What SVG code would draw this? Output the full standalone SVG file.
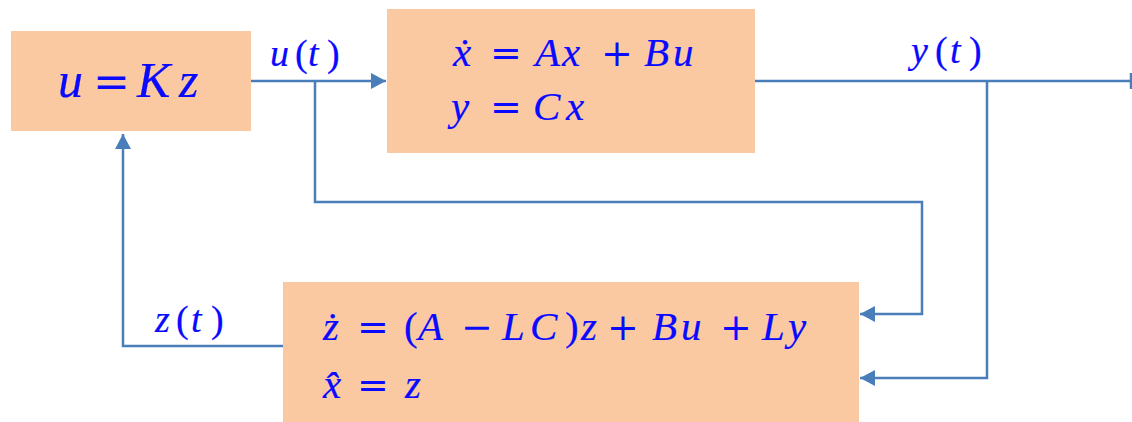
<svg xmlns="http://www.w3.org/2000/svg" width="1132" height="422" viewBox="0 0 1132 422">
<style>
.box{fill:#FAC9A2;stroke:none}
.ln{fill:none;stroke:#4A7EBB;stroke-width:2.5}
.m{font-family:"Liberation Serif","Times New Roman",serif;font-style:italic;fill:#0a0aff;stroke:#0a0aff;stroke-width:0.2}
.op{font-family:"DejaVu Serif",serif;font-style:normal;font-size:38px;stroke-width:0}
.pr{font-family:"Liberation Serif",serif;font-style:normal}
</style>
<defs>
<marker id="ah" viewBox="0 0 15 16" refX="15" refY="8" markerWidth="15" markerHeight="16" markerUnits="userSpaceOnUse" orient="auto">
<path d="M0,0 L15,8 L0,16 Z" fill="#4A7EBB"/>
</marker>
</defs>
<rect width="1132" height="422" fill="#ffffff"/>
<g id="connectors">
<path class="ln" d="M251 81 H386" marker-end="url(#ah)"/>
<path class="ln" d="M315 81 V202 H922 V314 H860" marker-end="url(#ah)"/>
<path class="ln" d="M755 81 H1131"/>
<path class="ln" d="M1131 73 V89"/>
<path class="ln" d="M987 81 V378 H860" marker-end="url(#ah)"/>
<path class="ln" d="M283 346 H123 V134" marker-end="url(#ah)"/>
</g>
<g id="controller">
<rect class="box" x="11" y="31" width="240" height="100"/>
<text class="m" y="97" font-size="50"><tspan x="58">u</tspan><tspan class="op" x="93" style="font-size:44px">=</tspan><tspan x="137">K</tspan><tspan x="179">z</tspan></text>
</g>
<g id="plant">
<rect class="box" x="387" y="9" width="368" height="144"/>
<text class="m" y="66" font-size="41"><tspan x="453">ẋ</tspan><tspan class="op" x="490">=</tspan><tspan x="535">A</tspan><tspan x="562">x</tspan><tspan class="op" x="601">+</tspan><tspan x="644">B</tspan><tspan x="673">u</tspan></text>
<text class="m" y="120" font-size="41"><tspan x="451">y</tspan><tspan class="op" x="490">=</tspan><tspan x="533">C</tspan><tspan x="566">x</tspan></text>
</g>
<g id="observer">
<rect class="box" x="283" y="282" width="576" height="140"/>
<text class="m" y="340" font-size="41"><tspan x="323">ż</tspan><tspan class="op" x="357">=</tspan><tspan class="pr" x="404">(</tspan><tspan x="418">A</tspan><tspan class="op" x="461">−</tspan><tspan x="502">L</tspan><tspan x="530">C</tspan><tspan class="pr" x="565">)</tspan><tspan x="581">z</tspan><tspan class="op" x="607">+</tspan><tspan x="652">B</tspan><tspan x="681">u</tspan><tspan class="op" x="720">+</tspan><tspan x="762">L</tspan><tspan x="788">y</tspan></text>
<text class="m" y="398" font-size="41"><tspan x="323">x̂</tspan><tspan class="op" x="357">=</tspan><tspan x="405">z</tspan></text>
</g>
<g id="labels">
<text class="m" y="66" font-size="38"><tspan x="270">u</tspan><tspan class="pr" x="295">(</tspan><tspan x="308">t</tspan><tspan class="pr" x="327">)</tspan></text>
<text class="m" y="63" font-size="38"><tspan x="911">y</tspan><tspan class="pr" x="935">(</tspan><tspan x="950">t</tspan><tspan class="pr" x="969">)</tspan></text>
<text class="m" y="332" font-size="38"><tspan x="155">z</tspan><tspan class="pr" x="176">(</tspan><tspan x="191">t</tspan><tspan class="pr" x="211">)</tspan></text>
</g>
</svg>
